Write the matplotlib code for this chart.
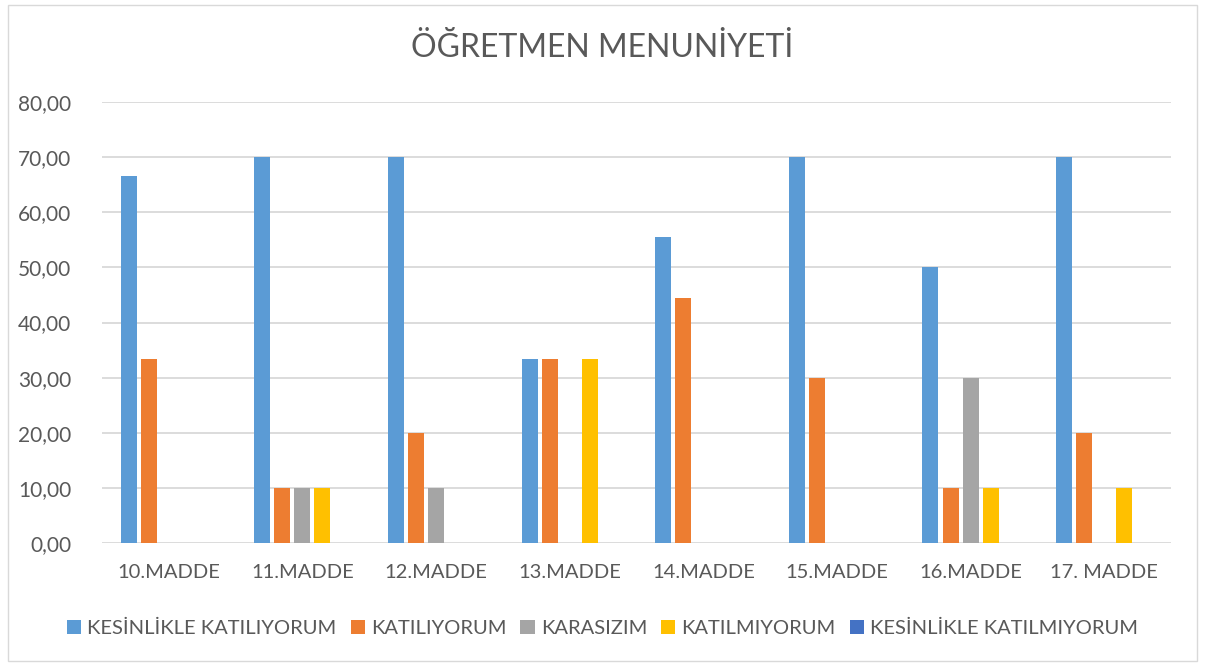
import numpy as np
import matplotlib.pyplot as plt
from matplotlib.patches import Rectangle

plt.rcParams['font.family'] = ['Lato', 'DejaVu Sans']

categories = ['10.MADDE', '11.MADDE', '12.MADDE', '13.MADDE',
              '14.MADDE', '15.MADDE', '16.MADDE', '17. MADDE']
series_names = ['KESİNLİKLE KATILIYORUM', 'KATILIYORUM', 'KARASIZIM',
                'KATILMIYORUM', 'KESİNLİKLE KATILMIYORUM']
kesinlikle_katiliyorum = [66.67, 70, 70, 33.33, 55.56, 70, 50, 70]
katiliyorum = [33.33, 10, 20, 33.33, 44.44, 30, 10, 20]
karasizim = [0, 10, 10, 0, 0, 0, 30, 0]
katilmiyorum = [0, 10, 0, 33.33, 0, 0, 10, 10]
kesinlikle_katilmiyorum = [0, 0, 0, 0, 0, 0, 0, 0]
colors = ['#5B9BD5', '#ED7D31', '#A5A5A5', '#FFC000', '#4472C4']

all_series = [kesinlikle_katiliyorum, katiliyorum, karasizim,
              katilmiyorum, kesinlikle_katilmiyorum]

fig = plt.figure(figsize=(12.05, 6.66), dpi=100)
ax = fig.add_axes([0.0846, 0.1847, 0.8872, 0.6621])

x = np.arange(len(categories))
slot = 0.15
for i, (vals, name, col) in enumerate(zip(all_series, series_names, colors)):
    ax.bar(x + (i - 2) * slot, vals, width=0.12, color=col, label=name,
           zorder=3)

ax.set_xlim(-0.5, len(categories) - 0.5)
ax.set_ylim(0, 80)
ax.set_yticks(np.arange(0, 81, 10))
ax.set_yticklabels([f'{v:.2f}'.replace('.', ',') for v in np.arange(0, 81, 10)])
ax.set_xticks(x)
ax.set_xticklabels(categories)
ax.grid(axis='y', color='#D9D9D9', linewidth=1.3, zorder=0)
for s in ax.spines.values():
    s.set_visible(False)
ax.tick_params(length=0, colors='#595959', labelsize=14.5)
ax.tick_params(axis='y', pad=22, labelsize=15)
ax.tick_params(axis='x', pad=15)

fig.text(0.5, 0.928, 'ÖĞRETMEN MENUNİYETİ', ha='center', va='center',
         fontsize=23, color='#595959')

fig.legend(loc='center', bbox_to_anchor=(0.5, 0.057), ncol=5, frameon=False,
           fontsize=14.5, handlelength=0.7, handleheight=0.7,
           handletextpad=0.3, columnspacing=0.7, labelcolor='#595959')

fig.patches.append(Rectangle((0.007, 0.008), 0.986, 0.984,
                             transform=fig.transFigure, fill=False,
                             edgecolor='#D9D9D9', linewidth=1))

fig.savefig('out.png', dpi=100)
